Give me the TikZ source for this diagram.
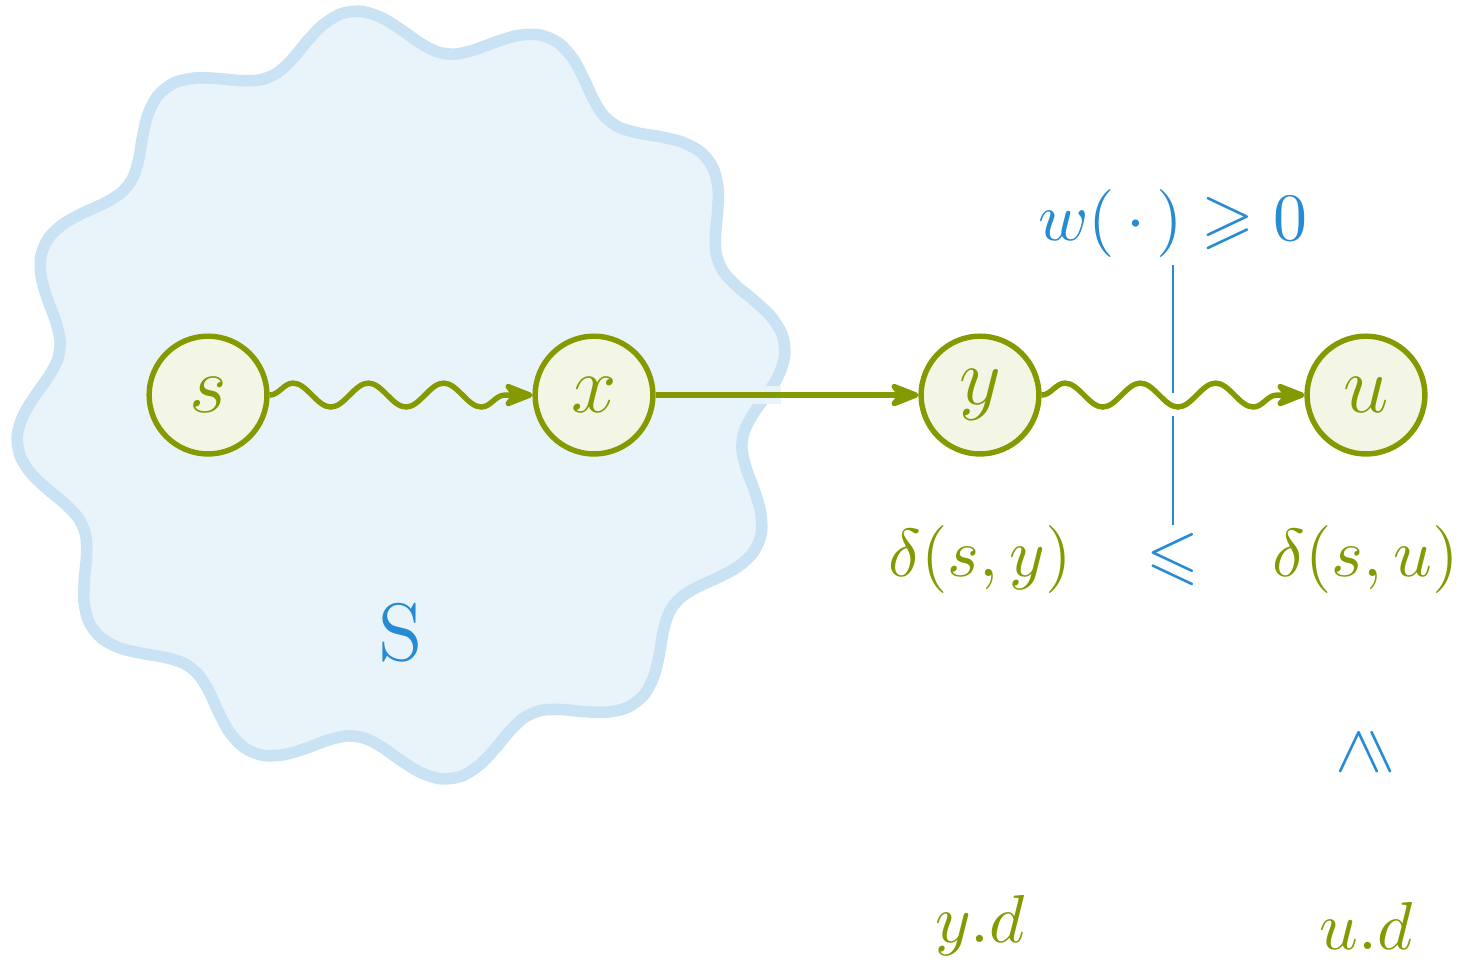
\documentclass[tikz,border=0pt]{standalone}
\usepackage{amsmath}
\usepackage{amssymb}
\usepackage{xcolor}
\usepackage{tikz}
\usetikzlibrary{positioning,arrows.meta,calc,decorations.pathmorphing}
\definecolor{sGreen}{RGB}{133,153,0}
\definecolor{sBlue}{RGB}{38,139,210}
\tikzset{
  vtx/.style={circle, draw=sGreen, fill=sGreen!10, thick, text=sGreen,
              minimum size=6.1mm, inner sep=0pt, font=\large},
  hop/.style={-{Stealth[length=5.4pt,width=4.2pt,inset=1.6pt,round]},
              draw=sGreen, thick},
  walk/.style={hop, decorate,
               decoration={snake, amplitude=0.62mm, segment length=3.9mm}},
  blob/.style={draw=sBlue!25, fill=sBlue!10, line width=1.7pt},
  halo/.style={draw=sBlue!10, line width=2.6pt},
  divider/.style={draw=sBlue, line width=0.35pt},
  glbl/.style={text=sGreen, inner sep=1pt},
  blbl/.style={text=sBlue, inner sep=1pt},
}

\begin{document}
\begin{tikzpicture}[node distance=20mm, on grid]
  \useasboundingbox (-1.078,-2.938) rectangle (6.513,2.047);

  % settled set S
  \draw[blob, shift={(1,0)}] plot[smooth cycle, variable=\t, domain=0:357,
        samples=120] (\t:{1.894+0.111*sin(12*\t)});

  \node[vtx] (s) {$s$};
  \node[vtx, right=of s] (x) {$x$};
  \node[vtx, right=of x] (y) {$y$};
  \node[vtx, right=of y] (u) {$u$};
  \node[blbl, font=\large] (S) at (1,-1.23) {S};

  % distances below the vertices
  \node[glbl, below=8.5mm of y] (dy) {$\delta(s,y)$};
  \node[glbl, below=8.5mm of u] (du) {$\delta(s,u)$};
  \node[blbl] (le) at ($(dy)!.5!(du)$) {$\leqslant$};
  \node[blbl, rotate=90, below=10mm of du] (ge) {$\geqslant$};
  \node[glbl, below=19mm of dy] (yd) {$y.d$};
  \node[glbl, below=19mm of du] (ud) {$u.d$};

  % non-negative weights
  \coordinate (mid) at ($(y)!.5!(u)$);
  \node[blbl] (w) at ($(mid)+(0,0.89)$) {$w(\,\cdot\,)\geqslant 0$};
  \coordinate (cutT) at ($(mid)+(0,0.01)$);
  \coordinate (cutB) at ($(mid)+(0,-0.11)$);
  \draw[divider] (w.south) -- (cutT);
  \draw[divider] (cutB) -- (le.north);

  % paths
  \draw[walk] (s) -- (x);
  \draw[halo] ($(x)!.35!(y)$) -- ($(x)!.485!(y)$);
  \draw[hop] (x) -- (y);
  \draw[walk] (y) -- (u);
\end{tikzpicture}
\end{document}
